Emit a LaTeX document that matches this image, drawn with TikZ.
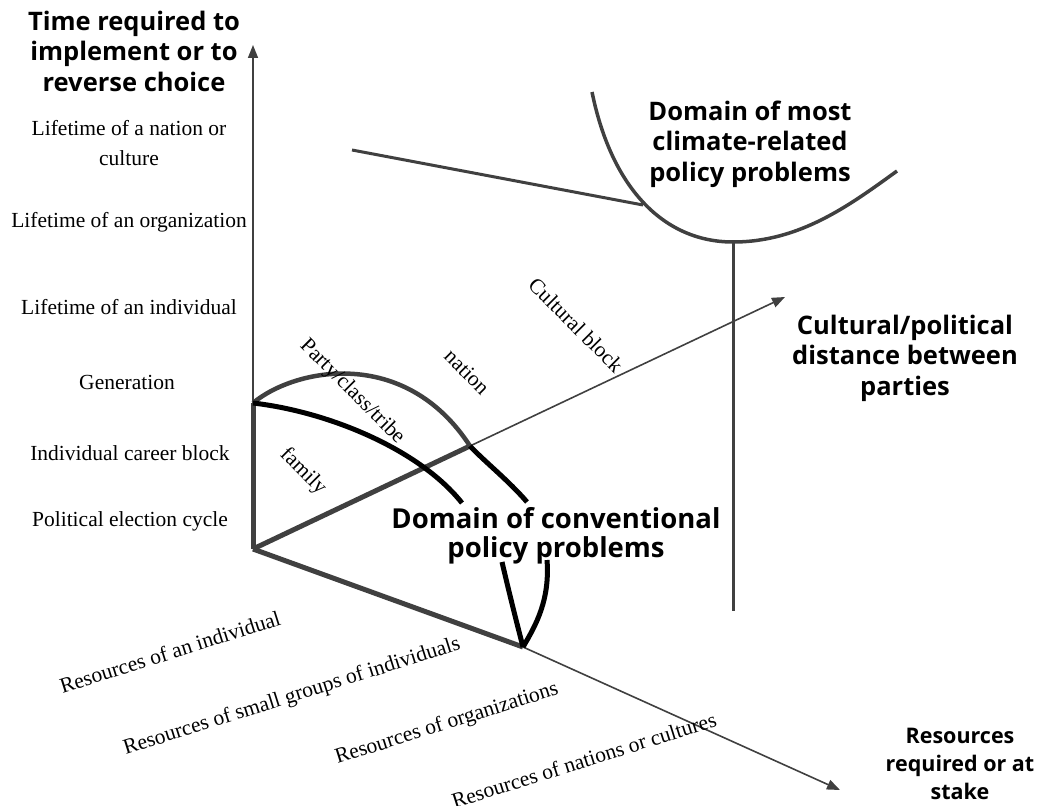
\documentclass[tikz,border=0pt]{standalone}
\usepackage{fontspec}
\setmainfont{Liberation Serif}
\newfontfamily\headfont{Open Sans}
\usetikzlibrary{arrows.meta}
\definecolor{axisgray}{HTML}{404040}
\begin{document}
\begin{tikzpicture}[x=1pt,y=-1pt,
  scale label/.style={font=\fontsize{21.5}{30}\selectfont, align=center, inner sep=0pt},
  head label/.style={font=\headfont\bfseries\fontsize{25.5}{30.5}\selectfont, align=center, inner sep=0pt},
  thinaxis/.style={draw=axisgray, line width=1.6pt, -{Triangle[length=13pt,width=10pt]}},
  thickaxis/.style={draw=axisgray, line width=5pt},
  grayarc/.style={draw=axisgray, line width=4.5pt},
  blackarc/.style={draw=black, line width=5pt},
  domainline/.style={draw=axisgray, line width=3.5pt}]
\useasboundingbox (0,0) rectangle (1040,805);

% axes
\coordinate (O) at (253,549);
\coordinate (S) at (253,403);
\coordinate (Ttip) at (253,45);
\coordinate (C1) at (470,446);
\coordinate (Dtip) at (785,297);
\coordinate (V) at (523,647);
\coordinate (Rtip) at (840,790);

\draw[thinaxis] (S) -- (Ttip);
\draw[thinaxis] (C1) -- (Dtip);
\draw[thinaxis] (V) -- (Rtip);
\draw[thickaxis] (S) -- (O);
\draw[thickaxis] (O) -- (C1);
\draw[thickaxis] (O) -- (V);

% domain of conventional problems
\coordinate (E1) at (527,502);
\coordinate (E2) at (462,503);
\draw[grayarc] (S) .. controls (295,368) and (405,346) .. (C1);
\draw[blackarc] (C1) .. controls (485,462) and (508,480) .. (E1);
\draw[blackarc] (S) .. controls (330,412) and (420,450) .. (E2);
\coordinate (VL) at (502,562);
\coordinate (VR) at (547,560);
\draw[blackarc] (VL) .. controls (509,592) and (516,620) .. (V);
\draw[blackarc] (VR) .. controls (550,600) and (536,625) .. (V);

% domain of climate-related problems
\coordinate (U0) at (592,92);
\coordinate (Ub) at (733,242);
\coordinate (U1) at (897,171);
\coordinate (Uj) at (643,205);
\coordinate (Ls) at (352,150);
\coordinate (Vb) at (733,611);
\draw[domainline] (U0) .. controls (612,190) and (665,242) .. (Ub)
  .. controls (800,242) and (850,205) .. (U1);
\draw[domainline, line width=3pt] (Ls) -- (Uj);
\draw[domainline, line width=3pt] (Ub) -- (Vb);

% axis titles
\node[head label] (tTime) at (134,51) {Time required to\\implement or to\\reverse choice};
\node[head label] (tDist) at (905,358) {Cultural/political\\distance between\\parties};
\node[head label, font=\headfont\bfseries\fontsize{21.5}{28}\selectfont] (tRes) at (960,764) {Resources\\required or at\\stake};
\node[head label, font=\headfont\bfseries\fontsize{27.5}{28.5}\selectfont] (tConv) at (556,536) {Domain of conventional\\policy problems};
\node[head label] (tClim) at (750,144) {Domain of most\\climate-related\\policy problems};

% time scale
\node[scale label] (l1) at (129,143) {Lifetime of a nation or\\culture};
\node[scale label] (l2) at (129,222) {Lifetime of an organization};
\node[scale label] (l3) at (129,307) {Lifetime of an individual};
\node[scale label] (l4) at (127,382) {Generation};
\node[scale label] (l5) at (130,453) {Individual career block};
\node[scale label] (l6) at (130,521) {Political election cycle};

% resource scale
\node[scale label, rotate=17.5] (r1) at (170,652) {Resources of an individual};
\node[scale label, rotate=17.5] (r2) at (292,697) {Resources of small groups of individuals};
\node[scale label, rotate=17.5] (r3) at (447,724) {Resources of organizations};
\node[scale label, rotate=17.5] (r4) at (584,760) {Resources of nations or cultures};

% distance scale
\node[scale label, rotate=-45] (d1) at (303,472) {family};
\node[scale label, rotate=-45] (d2) at (352,392) {Party/class/tribe};
\node[scale label, rotate=-45] (d3) at (467,372) {nation};
\node[scale label, rotate=-45] (d4) at (576,325) {Cultural block};
\end{tikzpicture}
\end{document}
